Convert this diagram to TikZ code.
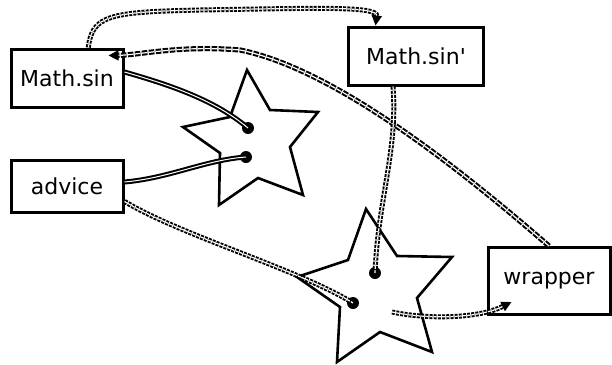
\documentclass[tikz,border=0pt]{standalone}
\usepackage{fontspec}
\setmainfont{DejaVu Sans}[Ligatures=TeXOff]
\usepackage{tikz}
\usetikzlibrary{calc,arrows.meta,positioning}

\begin{document}
\begin{tikzpicture}[x=0.5pt,y=-0.5pt,>={Triangle[length=5pt,width=5pt]},font=\fontsize{11}{13}\selectfont,
    box/.style={draw,line width=1.5pt,fill=white,inner sep=0pt},
    wire/.style={draw,line width=1pt,double=white,double distance=0.5pt},
    flow/.style={draw,line width=0.95pt,double=white,double distance=0.6pt,dash pattern=on 1.5pt off 0.6pt},
    back/.style={draw,line width=1pt,double=white,double distance=0.6pt,dash pattern=on 2.8pt off 0.7pt},
    knot/.style={circle,fill,inner sep=0pt,minimum size=6pt}]
    \useasboundingbox (0,0) rectangle (612,365);
    % stars
    \filldraw[fill=white,line width=1.3pt,line join=miter]
      (247,70) -- (270,110) -- (318,112) -- (290,147) -- (303,195) -- (258,178)
      -- (219,205) -- (220,153) -- (183,127) -- (230,117) -- cycle;
    \filldraw[fill=white,line width=1.3pt,line join=miter]
      (366,209) -- (397,256) -- (452,257) -- (417,298) -- (432,352) -- (380,332)
      -- (337,362) -- (340,307) -- (297,277) -- (348,260) -- cycle;
    % boxes
    \node[box,minimum width=56pt,minimum height=29pt] (msin) at (67,78) {Math.sin};
    \node[box,minimum width=56pt,minimum height=26pt] (advice) at (67,186) {advice};
    \node[box,minimum width=67.5pt,minimum height=29pt] (msinp) at (416,56) {Math.sin'};
    \node[box,minimum width=61pt,minimum height=33.5pt] (wrap) at (549,281) {wrapper};
    % dots
    \node[knot] (d1) at (248,128) {};
    \node[knot] (d2) at (246,157) {};
    \node[knot] (d3) at (375,273) {};
    \node[knot] (d4) at (353,303) {};
    \coordinate (out) at (392,312);
    % connections
    \path[wire] ([yshift=3]msin.east) .. controls (170,85) and (215,100) .. (d1.center);
    \path[wire] ([yshift=2]advice.east) .. controls (170,178) and (205,160) .. (d2.center);
    \path[flow,->] (msin.55) .. controls (92,15) and (110,12) .. (200,10)
      .. controls (320,8) and (378,6) .. (msinp.143);
    \path[back,->] (wrap.north) .. controls (450,160) and (330,68) .. (240,50)
      .. controls (180,45) and (140,55) .. ([shift={(-16,8)}]msin.north east);
    \path[flow] (msinp.233) .. controls (398,150) and (378,200) .. (d3.center);
    \path[flow] (advice.-15) .. controls (180,235) and (300,270) .. (d4.center);
    \path[flow,->] (out) .. controls (430,320) and (480,318) .. ([shift={(25,21)}]wrap.west);
\end{tikzpicture}
\end{document}
